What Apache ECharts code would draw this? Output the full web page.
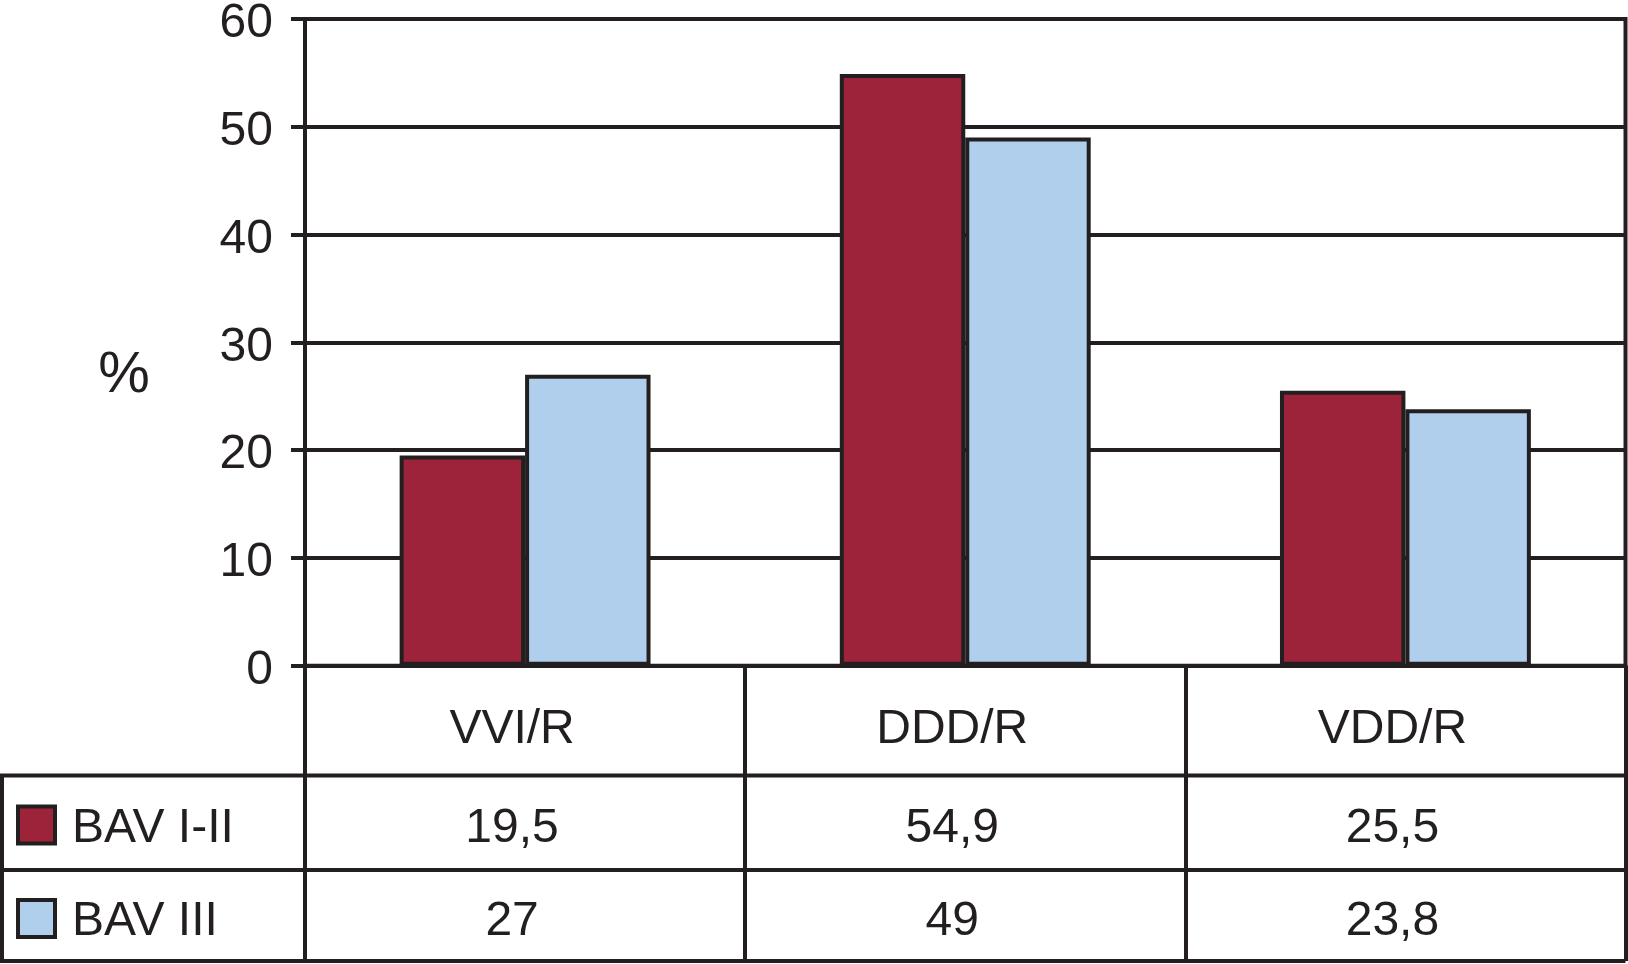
<!DOCTYPE html>
<html><head><meta charset="utf-8">
<script src="https://cdn.jsdelivr.net/npm/echarts@6/dist/echarts.min.js"></script>
<style>html,body{margin:0;padding:0;background:#fff}#c{width:1628px;height:964px}</style>
</head><body><div id="c"></div>
<script>
const categories = ['VVI/R', 'DDD/R', 'VDD/R'];
const seriesNames = ['BAV I-II', 'BAV III'];
const bav12 = [19.5, 54.9, 25.5];
const bav3 = [27, 49, 23.8];
const tableText12 = ['19,5', '54,9', '25,5'];
const tableText3 = ['27', '49', '23,8'];
const yTicks = [0, 10, 20, 30, 40, 50, 60];

const INK = '#231f20';
const RED = '#9c2339';
const BLUE = '#afcfed';
const FONT = 'Liberation Sans, Arial, Helvetica, sans-serif';
const LW = 4;

const GRID = {left: 305, right: 2.5, top: 19, bottom: 298.3};
const ZERO = 964 - GRID.bottom;
const ROW1 = 775.5, ROW2 = 870, BOTTOM = 961;
const TXT_SHIFT = -13;

const chart = echarts.init(document.getElementById('c'), null, {renderer: 'canvas'});
chart.setOption({
  animation: false,
  backgroundColor: '#fff',
  grid: Object.assign({show: true, borderColor: INK, borderWidth: LW, containLabel: false}, GRID),
  xAxis: {
    type: 'category', data: categories,
    axisLine: {show: true, lineStyle: {color: INK, width: LW}},
    axisTick: {show: true, length: BOTTOM - ZERO, lineStyle: {color: INK, width: LW}},
    axisLabel: {fontSize: 48, color: INK, fontFamily: FONT, margin: 64, verticalAlign: 'middle',
                padding: [0, -2 * TXT_SHIFT, 0, 0]}
  },
  yAxis: {
    type: 'value', min: yTicks[0], max: yTicks[yTicks.length - 1], interval: 10,
    axisLine: {show: true, lineStyle: {color: INK, width: LW}},
    axisTick: {show: true, length: 14, lineStyle: {color: INK, width: LW}},
    axisLabel: {fontSize: 48, color: INK, fontFamily: FONT, margin: 32, verticalAlign: 'top', lineHeight: 10},
    splitLine: {show: true, lineStyle: {color: INK, width: LW}}
  },
  series: [
    {name: seriesNames[0], type: 'bar', data: bav12, barGap: '0%', barCategoryGap: '43%',
     itemStyle: {color: RED, borderColor: INK, borderWidth: LW}},
    {name: seriesNames[1], type: 'bar', data: bav3, barGap: '0%', barCategoryGap: '43%',
     itemStyle: {color: BLUE, borderColor: INK, borderWidth: LW}}
  ]
});

const right = 1628 - GRID.right;
const gfx = [];
const line = (x1, y1, x2, y2) => gfx.push({type: 'line', shape: {x1, y1, x2, y2}, style: {stroke: INK, lineWidth: LW}, z: 10});
line(0, ROW1, right, ROW1);
line(0, ROW2, right, ROW2);
line(0, BOTTOM, right, BOTTOM);
line(2, ROW1, 2, BOTTOM);

const rows = [[tableText12, 825, RED], [tableText3, 918.5, BLUE]];
rows.forEach(([texts, cy, color], r) => {
  texts.forEach((t, i) => {
    const cx = chart.convertToPixel({xAxisIndex: 0}, categories[i]) + TXT_SHIFT;
    gfx.push({type: 'text', x: cx, y: cy + 3.5, style: {text: t, fill: INK, font: '48px ' + FONT, textAlign: 'center', textVerticalAlign: 'middle'}, z: 10});
  });
  gfx.push({type: 'rect', shape: {x: 18, y: cy - 18.5, width: 37, height: 37}, style: {fill: color, stroke: INK, lineWidth: LW}, z: 10});
  gfx.push({type: 'text', x: 72, y: cy + 3.5, style: {text: seriesNames[r], fill: INK, font: '48px ' + FONT, textAlign: 'left', textVerticalAlign: 'middle'}, z: 10});
});
gfx.push({type: 'text', x: 124, y: 376, style: {text: '%', fill: INK, font: '58px ' + FONT, textAlign: 'center', textVerticalAlign: 'middle'}, z: 10});
chart.setOption({graphic: gfx});
</script></body></html>
